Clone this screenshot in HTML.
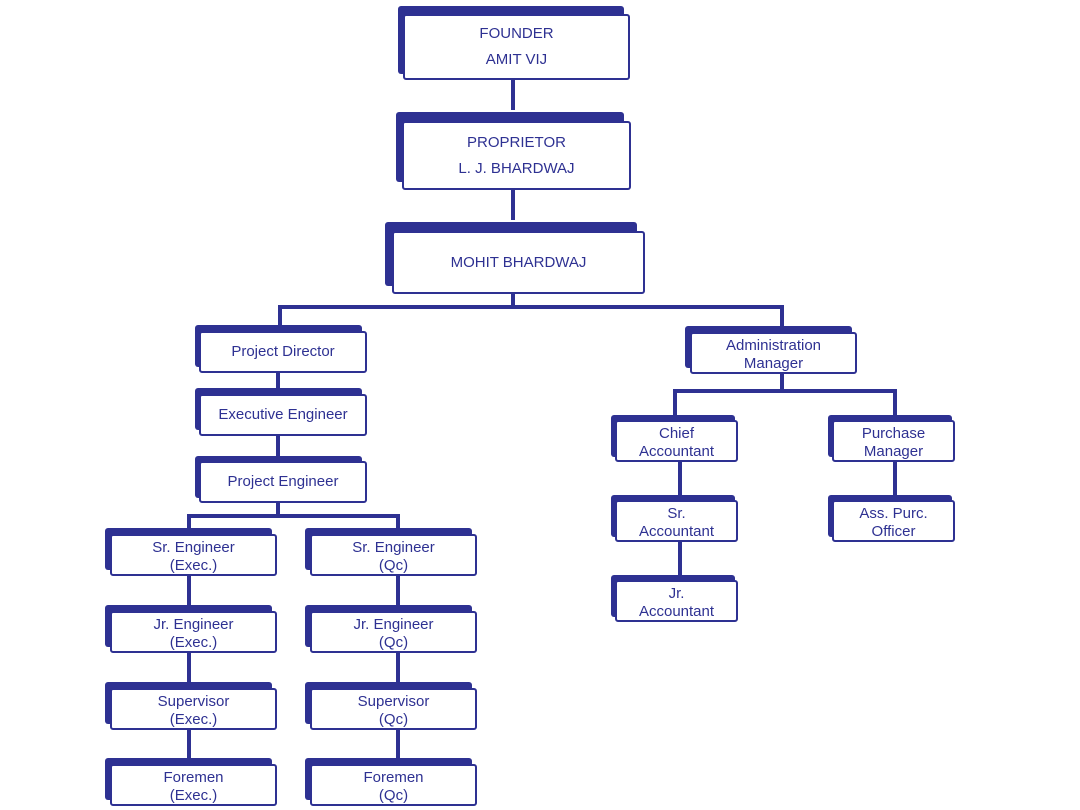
<!DOCTYPE html>
<html><head><style>
body{margin:0;width:1080px;height:810px;background:#fff;position:relative;overflow:hidden;font-family:"Liberation Sans",Arial,sans-serif;color:#2e3192}
.s{position:absolute;background:#2e3192;border-radius:3px}
.b{position:absolute;background:#fff;border:2px solid #2e3192;border-radius:3px;box-sizing:border-box;display:flex;flex-direction:column;justify-content:center;align-items:center;text-align:center;font-size:15px;line-height:18px}
.p{padding-top:3px}
.l{position:absolute;background:#2e3192}
</style></head><body>
<div class="l" style="left:511px;top:80px;width:4px;height:30px"></div>
<div class="l" style="left:511px;top:190px;width:4px;height:30px"></div>
<div class="l" style="left:511px;top:294px;width:4px;height:13px"></div>
<div class="l" style="left:278px;top:305px;width:506px;height:4px"></div>
<div class="l" style="left:278px;top:305px;width:4px;height:22px"></div>
<div class="l" style="left:780px;top:305px;width:4px;height:22px"></div>
<div class="l" style="left:276px;top:373px;width:4px;height:17px"></div>
<div class="l" style="left:276px;top:436px;width:4px;height:22px"></div>
<div class="l" style="left:276px;top:503px;width:4px;height:13px"></div>
<div class="l" style="left:187px;top:514px;width:213px;height:4px"></div>
<div class="l" style="left:187px;top:514px;width:4px;height:16px"></div>
<div class="l" style="left:396px;top:514px;width:4px;height:16px"></div>
<div class="l" style="left:187px;top:576px;width:4px;height:32px"></div>
<div class="l" style="left:187px;top:653px;width:4px;height:32px"></div>
<div class="l" style="left:187px;top:730px;width:4px;height:32px"></div>
<div class="l" style="left:396px;top:576px;width:4px;height:32px"></div>
<div class="l" style="left:396px;top:653px;width:4px;height:32px"></div>
<div class="l" style="left:396px;top:730px;width:4px;height:32px"></div>
<div class="l" style="left:780px;top:374px;width:4px;height:17px"></div>
<div class="l" style="left:673px;top:389px;width:224px;height:4px"></div>
<div class="l" style="left:673px;top:389px;width:4px;height:27px"></div>
<div class="l" style="left:893px;top:389px;width:4px;height:27px"></div>
<div class="l" style="left:678px;top:462px;width:4px;height:34px"></div>
<div class="l" style="left:678px;top:542px;width:4px;height:34px"></div>
<div class="l" style="left:893px;top:462px;width:4px;height:34px"></div>

<div class="s" style="left:398px;top:6px;width:226px;height:68px"></div>
<div class="b" style="left:403px;top:14px;width:227px;height:66px;line-height:26px">FOUNDER<br>AMIT VIJ</div>
<div class="s" style="left:396px;top:112px;width:228px;height:70px"></div>
<div class="b" style="left:402px;top:121px;width:229px;height:69px;line-height:26px">PROPRIETOR<br>L. J. BHARDWAJ</div>
<div class="s" style="left:385px;top:222px;width:252px;height:64px"></div>
<div class="b" style="left:392px;top:231px;width:253px;height:63px">MOHIT BHARDWAJ</div>

<div class="s" style="left:195px;top:325px;width:167px;height:42px"></div>
<div class="b" style="left:199px;top:331px;width:168px;height:42px">Project Director</div>
<div class="s" style="left:195px;top:388px;width:167px;height:42px"></div>
<div class="b" style="left:199px;top:394px;width:168px;height:42px">Executive Engineer</div>
<div class="s" style="left:195px;top:456px;width:167px;height:42px"></div>
<div class="b" style="left:199px;top:461px;width:168px;height:42px">Project Engineer</div>

<div class="s" style="left:105px;top:528px;width:167px;height:42px"></div>
<div class="b p" style="left:110px;top:534px;width:167px;height:42px">Sr. Engineer<br>(Exec.)</div>
<div class="s" style="left:105px;top:605px;width:167px;height:42px"></div>
<div class="b p" style="left:110px;top:611px;width:167px;height:42px">Jr. Engineer<br>(Exec.)</div>
<div class="s" style="left:105px;top:682px;width:167px;height:42px"></div>
<div class="b p" style="left:110px;top:688px;width:167px;height:42px">Supervisor<br>(Exec.)</div>
<div class="s" style="left:105px;top:758px;width:167px;height:42px"></div>
<div class="b p" style="left:110px;top:764px;width:167px;height:42px">Foremen<br>(Exec.)</div>

<div class="s" style="left:305px;top:528px;width:167px;height:42px"></div>
<div class="b p" style="left:310px;top:534px;width:167px;height:42px">Sr. Engineer<br>(Qc)</div>
<div class="s" style="left:305px;top:605px;width:167px;height:42px"></div>
<div class="b p" style="left:310px;top:611px;width:167px;height:42px">Jr. Engineer<br>(Qc)</div>
<div class="s" style="left:305px;top:682px;width:167px;height:42px"></div>
<div class="b p" style="left:310px;top:688px;width:167px;height:42px">Supervisor<br>(Qc)</div>
<div class="s" style="left:305px;top:758px;width:167px;height:42px"></div>
<div class="b p" style="left:310px;top:764px;width:167px;height:42px">Foremen<br>(Qc)</div>

<div class="s" style="left:685px;top:326px;width:167px;height:42px"></div>
<div class="b p" style="left:690px;top:332px;width:167px;height:42px">Administration<br>Manager</div>

<div class="s" style="left:611px;top:415px;width:124px;height:42px"></div>
<div class="b p" style="left:615px;top:420px;width:123px;height:42px">Chief<br>Accountant</div>
<div class="s" style="left:611px;top:495px;width:124px;height:42px"></div>
<div class="b p" style="left:615px;top:500px;width:123px;height:42px">Sr.<br>Accountant</div>
<div class="s" style="left:611px;top:575px;width:124px;height:42px"></div>
<div class="b p" style="left:615px;top:580px;width:123px;height:42px">Jr.<br>Accountant</div>

<div class="s" style="left:828px;top:415px;width:124px;height:42px"></div>
<div class="b p" style="left:832px;top:420px;width:123px;height:42px">Purchase<br>Manager</div>
<div class="s" style="left:828px;top:495px;width:124px;height:42px"></div>
<div class="b p" style="left:832px;top:500px;width:123px;height:42px">Ass. Purc.<br>Officer</div>
</body></html>
